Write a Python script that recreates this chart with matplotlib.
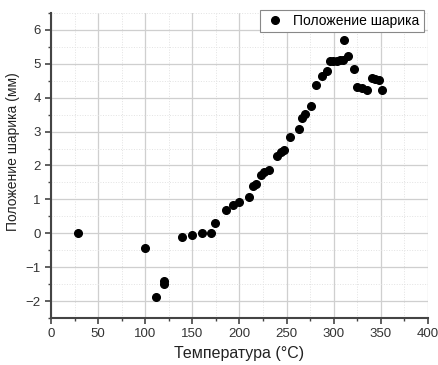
import matplotlib.pyplot as plt
from matplotlib.ticker import MultipleLocator

plt.rcParams['font.family'] = ['Liberation Sans', 'DejaVu Sans']

# temperature (°C) and ball position (mm)
temp = [29, 99.7, 111.8, 119.5, 120.2, 139, 150, 160.2, 170, 173.6,
        185.3, 193, 199.5, 209.7, 214.7, 217.5, 222.5, 226.3, 231.5,
        239.4, 244, 247.5, 254, 262.8, 266, 269.5, 275.5, 281.2, 287.2,
        293.2, 296, 299.6, 303.1, 306.6, 310.1, 311.2, 315.5, 321.5,
        325, 329.6, 335, 340.3, 344.1, 347.7, 351.5]
pos = [0.0, -0.42, -1.87, -1.51, -1.41, -0.12, -0.05, 0.01, 0.0, 0.29,
       0.70, 0.82, 0.92, 1.06, 1.39, 1.44, 1.72, 1.80, 1.87,
       2.27, 2.39, 2.46, 2.83, 3.08, 3.39, 3.53, 3.76, 4.37, 4.65,
       4.79, 5.09, 5.09, 5.09, 5.11, 5.12, 5.70, 5.24, 4.84,
       4.31, 4.29, 4.23, 4.57, 4.56, 4.53, 4.23]

fig = plt.figure(figsize=(4.38, 3.65), dpi=100)
ax = fig.add_axes([0.1164, 0.1288, 0.8606, 0.8356])

ax.plot(temp, pos, 'o', color='black', markersize=5.5, label='Положение шарика', zorder=3)

ax.set_xlim(0, 400)
ax.set_ylim(-2.5, 6.5)
ax.xaxis.set_major_locator(MultipleLocator(50))
ax.xaxis.set_minor_locator(MultipleLocator(25))
ax.yaxis.set_major_locator(MultipleLocator(1))
ax.yaxis.set_minor_locator(MultipleLocator(0.5))

ax.grid(which='major', color='#cfcfcf', linewidth=0.9)
ax.grid(which='minor', color='#e2e2e2', linewidth=0.7, linestyle=':')
ax.set_axisbelow(True)

for s in ['top', 'right']:
    ax.spines[s].set_visible(False)
for s in ['left', 'bottom']:
    ax.spines[s].set_color('#444444')
    ax.spines[s].set_linewidth(1.5)

ax.tick_params(which='major', direction='out', length=4, width=1.2, color='#444444',
               labelsize=9.5, labelcolor='#333333')
ax.tick_params(which='minor', direction='out', length=2.5, width=1.0, color='#444444')

ax.set_xlabel('Температура (°C)', fontsize=11.5, color='#222222')
ax.set_ylabel('Положение шарика (мм)', fontsize=10, color='#222222')
ax.yaxis.set_label_coords(-0.082, 0.544)

leg = ax.legend(loc='upper right', bbox_to_anchor=(0.989, 1.0098), fontsize=10, fancybox=False,
                framealpha=1, edgecolor='#888888', borderpad=0.3, handletextpad=0.5,
                handlelength=1.6, borderaxespad=0)
leg.get_frame().set_linewidth(0.8)

fig.savefig('out.png', dpi=100)
